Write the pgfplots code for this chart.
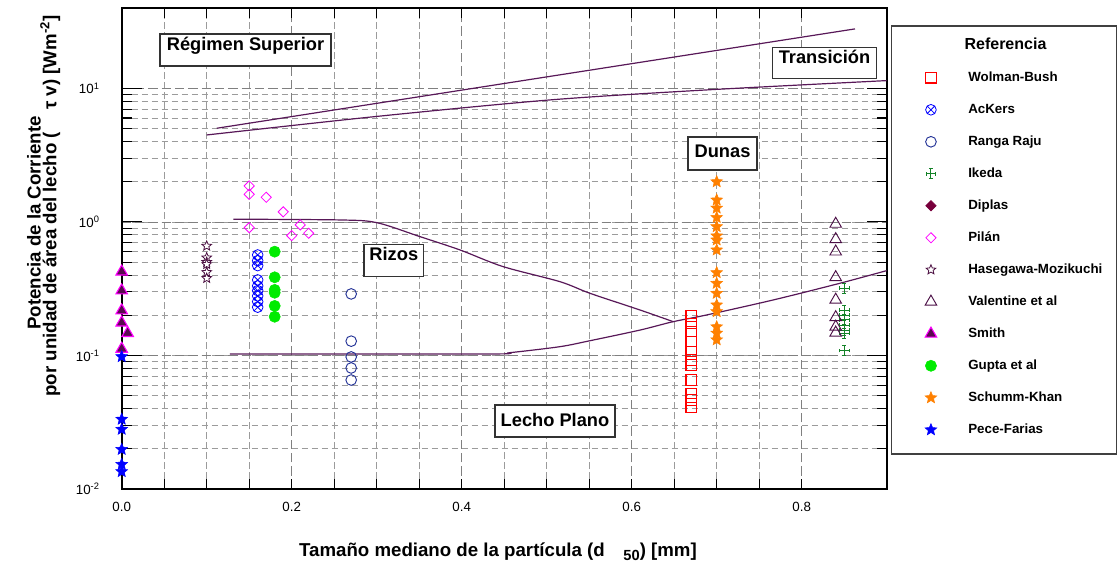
\documentclass[border=0pt]{standalone}
\usepackage{pgfplots}
\pgfplotsset{compat=1.18}
\usepackage{fontspec}
\setmainfont{Liberation Sans}

\definecolor{linec}{RGB}{88,24,88}
\definecolor{wolman}{RGB}{255,0,0}
\definecolor{ackers}{RGB}{0,0,255}
\definecolor{ranga}{RGB}{35,50,150}
\definecolor{ikedac}{RGB}{20,130,40}
\definecolor{diplas}{RGB}{120,0,60}
\definecolor{pilan}{RGB}{255,0,255}
\definecolor{hase}{RGB}{75,15,65}
\definecolor{valen}{RGB}{75,15,70}
\definecolor{smithf}{RGB}{90,10,80}
\definecolor{gupta}{RGB}{0,235,0}
\definecolor{schumm}{RGB}{255,128,0}
\definecolor{pece}{RGB}{0,0,255}
\definecolor{gridc}{RGB}{155,155,155}

\pgfdeclareplotmark{fstar}{%
  \pgfpathmoveto{\pgfpointpolar{90}{\pgfplotmarksize}}%
  \pgfpathlineto{\pgfpointpolar{126}{0.45\pgfplotmarksize}}%
  \pgfpathlineto{\pgfpointpolar{162}{\pgfplotmarksize}}%
  \pgfpathlineto{\pgfpointpolar{198}{0.45\pgfplotmarksize}}%
  \pgfpathlineto{\pgfpointpolar{234}{\pgfplotmarksize}}%
  \pgfpathlineto{\pgfpointpolar{270}{0.45\pgfplotmarksize}}%
  \pgfpathlineto{\pgfpointpolar{306}{\pgfplotmarksize}}%
  \pgfpathlineto{\pgfpointpolar{342}{0.45\pgfplotmarksize}}%
  \pgfpathlineto{\pgfpointpolar{18}{\pgfplotmarksize}}%
  \pgfpathlineto{\pgfpointpolar{54}{0.45\pgfplotmarksize}}%
  \pgfpathclose
  \pgfusepathqfillstroke
}
\pgfdeclareplotmark{ikeda}{%
  \pgfpathmoveto{\pgfqpoint{-\pgfplotmarksize}{0pt}}\pgfpathlineto{\pgfqpoint{\pgfplotmarksize}{0pt}}%
  \pgfpathmoveto{\pgfqpoint{0pt}{-\pgfplotmarksize}}\pgfpathlineto{\pgfqpoint{0pt}{\pgfplotmarksize}}%
  \pgfpathmoveto{\pgfqpoint{-\pgfplotmarksize}{-0.4\pgfplotmarksize}}\pgfpathlineto{\pgfqpoint{-\pgfplotmarksize}{0.4\pgfplotmarksize}}%
  \pgfpathmoveto{\pgfqpoint{\pgfplotmarksize}{-0.4\pgfplotmarksize}}\pgfpathlineto{\pgfqpoint{\pgfplotmarksize}{0.4\pgfplotmarksize}}%
  \pgfpathmoveto{\pgfqpoint{-0.4\pgfplotmarksize}{-\pgfplotmarksize}}\pgfpathlineto{\pgfqpoint{0.4\pgfplotmarksize}{-\pgfplotmarksize}}%
  \pgfpathmoveto{\pgfqpoint{-0.4\pgfplotmarksize}{\pgfplotmarksize}}\pgfpathlineto{\pgfqpoint{0.4\pgfplotmarksize}{\pgfplotmarksize}}%
  \pgfusepathqstroke
}

\begin{document}
\begin{tikzpicture}[x=0.75pt,y=0.75pt]
\useasboundingbox (0,0) rectangle (1117,562);
\begin{axis}[
  at={(91.275pt,54.75pt)}, anchor=south west,
  scale only axis, width=573.75pt, height=360.75pt,
  xmin=0, xmax=0.9, ymode=log, ymin=0.01, ymax=40,
  clip=false,
  xtick={0,0.2,0.4,0.6,0.8}, xticklabels={0.0,0.2,0.4,0.6,0.8},
  minor x tick num=3,
  ytick={0.01,0.1,1,10},
  yticklabels={10\textsuperscript{-2},10\textsuperscript{-1},10\textsuperscript{0},10\textsuperscript{1}},
  tick align=inside,
  major tick length=15pt, minor tick length=7.5pt,
  xtick style={/pgfplots/major tick length=7.5pt},
  tick style={black, line width=0.8pt},
  grid=both,
  major grid style={gray, dash pattern=on 7pt off 3pt, line width=0.6pt},
  minor grid style={gridc, dash pattern=on 5pt off 2.5pt, line width=0.6pt},
  axis line style={line width=1.2pt},
  ticklabel style={font=\fontsize{10}{12}\selectfont},
  xticklabel style={yshift=-6.5pt},
  yticklabel style={xshift=-13pt},
  legend style={at={(1.0439,0.8674)}, anchor=north west, draw=none, fill=none,
    inner sep=0pt, outer sep=0pt, row sep=15pt, column sep=20pt,
    font=\bfseries\fontsize{10}{12}\selectfont,
    nodes={inner sep=0pt, text height=7.5pt, text depth=1.5pt}},
  legend cell align=left,
  legend image code/.code={\pgfpathrectangle{\pgfpoint{0pt}{-4.5pt}}{\pgfpoint{16pt}{9pt}}\pgfusepath{use as bounding box}\draw[#1] plot coordinates {(8pt,0pt)};},
]
% boundary lines
\addplot[linec, line width=0.9pt, forget plot] coordinates {(0.1118,5.03) (0.8627,27.9)};
\addplot[linec, line width=0.9pt, forget plot, smooth] coordinates {(0.100,4.48) (0.298,6.15) (0.504,8.20) (0.688,9.74) (0.900,11.44)};
\addplot[linec, line width=0.9pt, forget plot, smooth] coordinates {(0.1313,1.048) (0.2568,1.035) (0.300,0.988) (0.351,0.776) (0.398,0.617) (0.4486,0.463) (0.5156,0.357) (0.551,0.292) (0.6098,0.219) (0.649,0.179)};
\addplot[linec, line width=0.9pt, forget plot, smooth] coordinates {(0.1274,0.1026) (0.4294,0.1026) (0.4568,0.105) (0.5156,0.1164) (0.551,0.129) (0.6098,0.155) (0.6486,0.179) (0.688,0.201) (0.766,0.260) (0.8447,0.347) (0.900,0.432)};

\addplot[only marks, mark=square, mark size=3.9pt, draw=wolman, line width=0.8pt] coordinates {
(0.67,0.198) (0.67,0.174) (0.67,0.151) (0.67,0.127) (0.67,0.107) (0.67,0.0925) (0.67,0.0849) (0.67,0.0655) (0.67,0.0521) (0.67,0.0464) (0.67,0.0409)};
\addlegendentry{Wolman-Bush}
\addplot[only marks, mark=otimes, mark size=4pt, draw=ackers, line width=0.6pt] coordinates {
(0.16,0.566) (0.16,0.513) (0.16,0.471) (0.16,0.368) (0.16,0.332) (0.16,0.306) (0.16,0.279) (0.16,0.253) (0.16,0.230)};
\addlegendentry{AcKers}
\addplot[only marks, mark=o, mark size=4pt, draw=ranga, line width=0.7pt] coordinates {
(0.27,0.289) (0.27,0.128) (0.27,0.0975) (0.27,0.0806) (0.27,0.0655)};
\addlegendentry{Ranga Raju}
\addplot[only marks, mark=ikeda, mark size=3.7pt, draw=ikedac, line width=0.7pt] coordinates {
(0.85,0.319) (0.85,0.219) (0.85,0.201) (0.85,0.185) (0.85,0.169) (0.85,0.155) (0.85,0.147) (0.85,0.109)};
\addlegendentry{Ikeda}
\addlegendimage{only marks, mark=square*, mark options={rotate=45}, mark size=2.8pt, draw=diplas, fill=diplas}
\addlegendentry{Diplas}
\addplot[only marks, mark=square, mark options={rotate=45}, mark size=2.7pt, draw=pilan, line width=0.6pt] coordinates {
(0.15,1.86) (0.15,1.61) (0.17,1.53) (0.19,1.19) (0.15,0.906) (0.21,0.95) (0.20,0.79) (0.22,0.823)};
\addlegendentry{Pilán}
\addplot[only marks, mark=fstar, mark size=3.8pt, draw=hase, fill=white, line width=0.6pt] coordinates {
(0.1,0.661) (0.1,0.540) (0.1,0.50) (0.1,0.482) (0.1,0.420) (0.1,0.379)};
\addlegendentry{Hasegawa-Mozikuchi}
\addplot[only marks, mark=triangle, mark size=5pt, draw=valen, line width=0.7pt] coordinates {
(0.84,0.966) (0.84,0.741) (0.84,0.599) (0.84,0.385) (0.84,0.261) (0.84,0.193) (0.84,0.164) (0.84,0.148)};
\addlegendentry{Valentine et al}
\addplot[only marks, mark=triangle*, mark size=5pt, draw=pilan, fill=smithf, line width=0.8pt] coordinates {
(0,0.424) (0,0.306) (0,0.217) (0,0.176) (0.007,0.147) (0,0.112)};
\addlegendentry{Smith}
\addplot[only marks, mark=*, mark size=4.2pt, draw=gupta, fill=gupta] coordinates {
(0.18,0.599) (0.18,0.385) (0.18,0.31) (0.18,0.295) (0.18,0.235) (0.18,0.195)};
\addlegendentry{Gupta et al}
\addplot[only marks, mark=fstar, mark size=4.6pt, draw=schumm, fill=schumm] coordinates {
(0.70,2.00) (0.70,1.46) (0.70,1.27) (0.70,1.08) (0.70,0.922) (0.70,0.786) (0.70,0.733) (0.70,0.617) (0.70,0.417) (0.70,0.347) (0.70,0.292) (0.70,0.239) (0.70,0.213) (0.70,0.164) (0.70,0.147) (0.70,0.131)};
\addlegendentry{Schumm-Khan}
\addplot[only marks, mark=fstar, mark size=4.6pt, draw=pece, fill=pece] coordinates {
(0,0.098) (0,0.0333) (0,0.028) (0,0.0198) (0,0.0153) (0,0.0135)};
\addlegendentry{Pece-Farias}
\end{axis}

% region boxes
\begin{scope}[line width=0.9pt, draw=black!80]
\filldraw[fill=white] (160,496) rectangle (331,528);
\filldraw[fill=white] (772.3,483.7) rectangle (876.7,514.3);
\filldraw[fill=white] (688,392) rectangle (757,425);
\filldraw[fill=white] (364,285.3) rectangle (423.3,317.7);
\filldraw[fill=white] (495,125) rectangle (615,157);
\end{scope}
\begin{scope}[every node/.style={font=\bfseries\fontsize{13.7}{16}\selectfont, anchor=base, inner sep=0pt}]
\node at (245.5,511) {Régimen Superior};
\node at (824.5,498.7) {Transición};
\node at (722.5,405) {Dunas};
\node at (393.8,301.3) {Rizos};
\node at (555,136) {Lecho Plano};
\end{scope}

% legend frame and title
\draw[line width=0.8pt, black!75] (891.7,108) rectangle (1116.5,536);
\node[font=\bfseries\fontsize{12}{14}\selectfont, anchor=base, inner sep=0pt] at (1005.5,512.7) {Referencia};

% axis labels
\node[rotate=90, anchor=base, inner sep=0pt, font=\bfseries\fontsize{14}{16}\selectfont] at (40.5,339) {Potencia de la Corriente};
\node[rotate=90, anchor=base, inner sep=0pt, font=\bfseries\fontsize{14}{16}\selectfont] at (56.3,356) {por unidad de área del lecho (\hspace{1.2em}τ v) [Wm\textsuperscript{-2}]};
\node[anchor=base, inner sep=0pt, font=\bfseries\fontsize{14}{16}\selectfont] at (498,6) {Tamaño mediano de la partícula (d\hspace{1em}\raisebox{-0.45ex}{\fontsize{11}{12}\selectfont 50}) [mm]};
\end{tikzpicture}
\end{document}
